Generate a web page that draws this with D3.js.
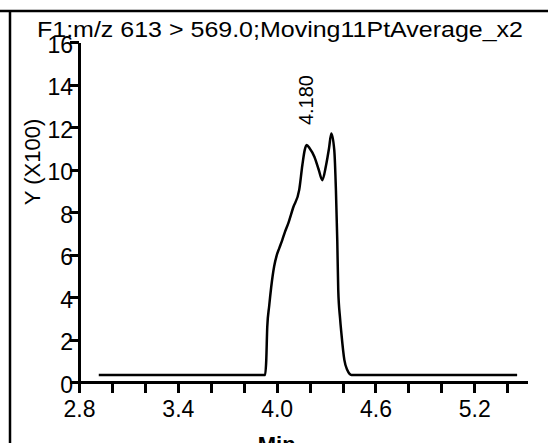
<!DOCTYPE html>
<html>
  <head>
    <meta charset="utf-8" />
    <script src="https://cdnjs.cloudflare.com/ajax/libs/d3/7.8.5/d3.min.js"></script>
    <style>
    body { margin: 0; background: #fff; }
    #master { width: 548px; height: 443px; overflow: hidden; }
    text { font-family: "Liberation Sans", Arial, sans-serif; fill: #000; }
    .axis path, .axis line { stroke: #000; stroke-width: 3; shape-rendering: crispEdges; }
    .axis text { font-size: 23px; }
    </style>
  </head>
  <body>
    <div id="master"></div>

    <script type="text/javascript">
// retention time (min) and intensity (x100)
var times = [2.92, 3.50, 3.93, 3.937, 3.943, 3.955, 3.967, 3.985, 4.00, 4.016, 4.034, 4.05, 4.071,
             4.10, 4.137, 4.156, 4.17, 4.182, 4.20, 4.229, 4.255, 4.277, 4.30, 4.318, 4.332,
             4.35, 4.36, 4.368, 4.374, 4.385, 4.393, 4.411, 4.429, 4.454, 5.00, 5.46];
var intensity = [0.33, 0.33, 0.33, 1.04, 2.59, 3.6, 4.47, 5.45, 5.95, 6.3, 6.68, 7.05, 7.48,
                 8.2, 9.04, 10.2, 10.9, 11.15, 11.0, 10.6, 10.0, 9.5, 10.2, 11.0, 11.7,
                 10.9, 9.0, 6.68, 4.33, 3.0, 2.3, 1.04, 0.56, 0.33, 0.33, 0.33];
var xTicks = [2.8, 3.0, 3.2, 3.4, 3.6, 3.8, 4.0, 4.2, 4.4, 4.6, 4.8, 5.0, 5.2, 5.4];
var xLabels = [2.8, 3.4, 4.0, 4.6, 5.2];
var yTicks = [0, 2, 4, 6, 8, 10, 12, 14, 16];
var peakLabel = { t: 4.18, v: 11.15, text: "4.180" };
var title = "F1:m/z 613 > 569.0;Moving11PtAverage_x2";

var width = 548, height = 443;
var svg = d3.select("#master").append("svg")
  .attr("width", width)
  .attr("height", height);

// outer frame (top and left only)
svg.append("line").attr("x1", 0).attr("x2", width).attr("y1", 11).attr("y2", 11)
  .attr("stroke", "#000").attr("stroke-width", 2.5);
svg.append("line").attr("x1", 10).attr("x2", 10).attr("y1", 11).attr("y2", height)
  .attr("stroke", "#000").attr("stroke-width", 2.5);

var x = d3.scaleLinear().domain([2.8, 5.52]).range([79, 527]);
var y = d3.scaleLinear().domain([0, 16]).range([382, 42]);

svg.append("text")
  .attr("x", 37).attr("y", 37)
  .attr("font-size", 22)
  .attr("textLength", 486)
  .attr("lengthAdjust", "spacingAndGlyphs")
  .text(title);

var xAxis = svg.append("g")
  .attr("class", "axis")
  .attr("transform", "translate(0," + y(0) + ")")
  .call(d3.axisBottom(x).tickValues(xTicks).tickSizeInner(11).tickSizeOuter(0)
    .tickFormat(function(d) { return xLabels.indexOf(d) >= 0 ? d3.format(".1f")(d) : ""; }));
xAxis.selectAll("text").attr("dy", "0.95em").attr("y", 13);

var yAxis = svg.append("g")
  .attr("class", "axis")
  .attr("transform", "translate(" + x(2.8) + ",0)")
  .call(d3.axisLeft(y).tickValues(yTicks).tickSizeInner(9).tickSizeOuter(0)
    .tickFormat(d3.format("d")));
yAxis.selectAll("text").attr("x", -6).attr("dy", "0.45em");

svg.append("text")
  .attr("transform", "translate(40," + 162 + ") rotate(-90)")
  .attr("text-anchor", "middle")
  .attr("font-size", 22)
  .text("Y (X100)");

svg.append("text")
  .attr("x", x(4.0)).attr("y", 452)
  .attr("text-anchor", "middle")
  .attr("font-size", 22)
  .attr("font-weight", "bold")
  .text("Min");

var line = d3.line()
  .x(function(d, i) { return x(times[i]); })
  .y(function(d) { return y(d); })
  .curve(d3.curveMonotoneX);

svg.append("path")
  .datum(intensity)
  .attr("d", line)
  .attr("fill", "none")
  .attr("stroke", "#000")
  .attr("stroke-width", 2.5);

svg.append("text")
  .attr("transform", "translate(" + (x(peakLabel.t) + 7) + "," + (y(peakLabel.v) - 20) + ") rotate(-90)")
  .attr("font-size", 20)
  .text(peakLabel.text);
    </script>
  </body>
</html>
